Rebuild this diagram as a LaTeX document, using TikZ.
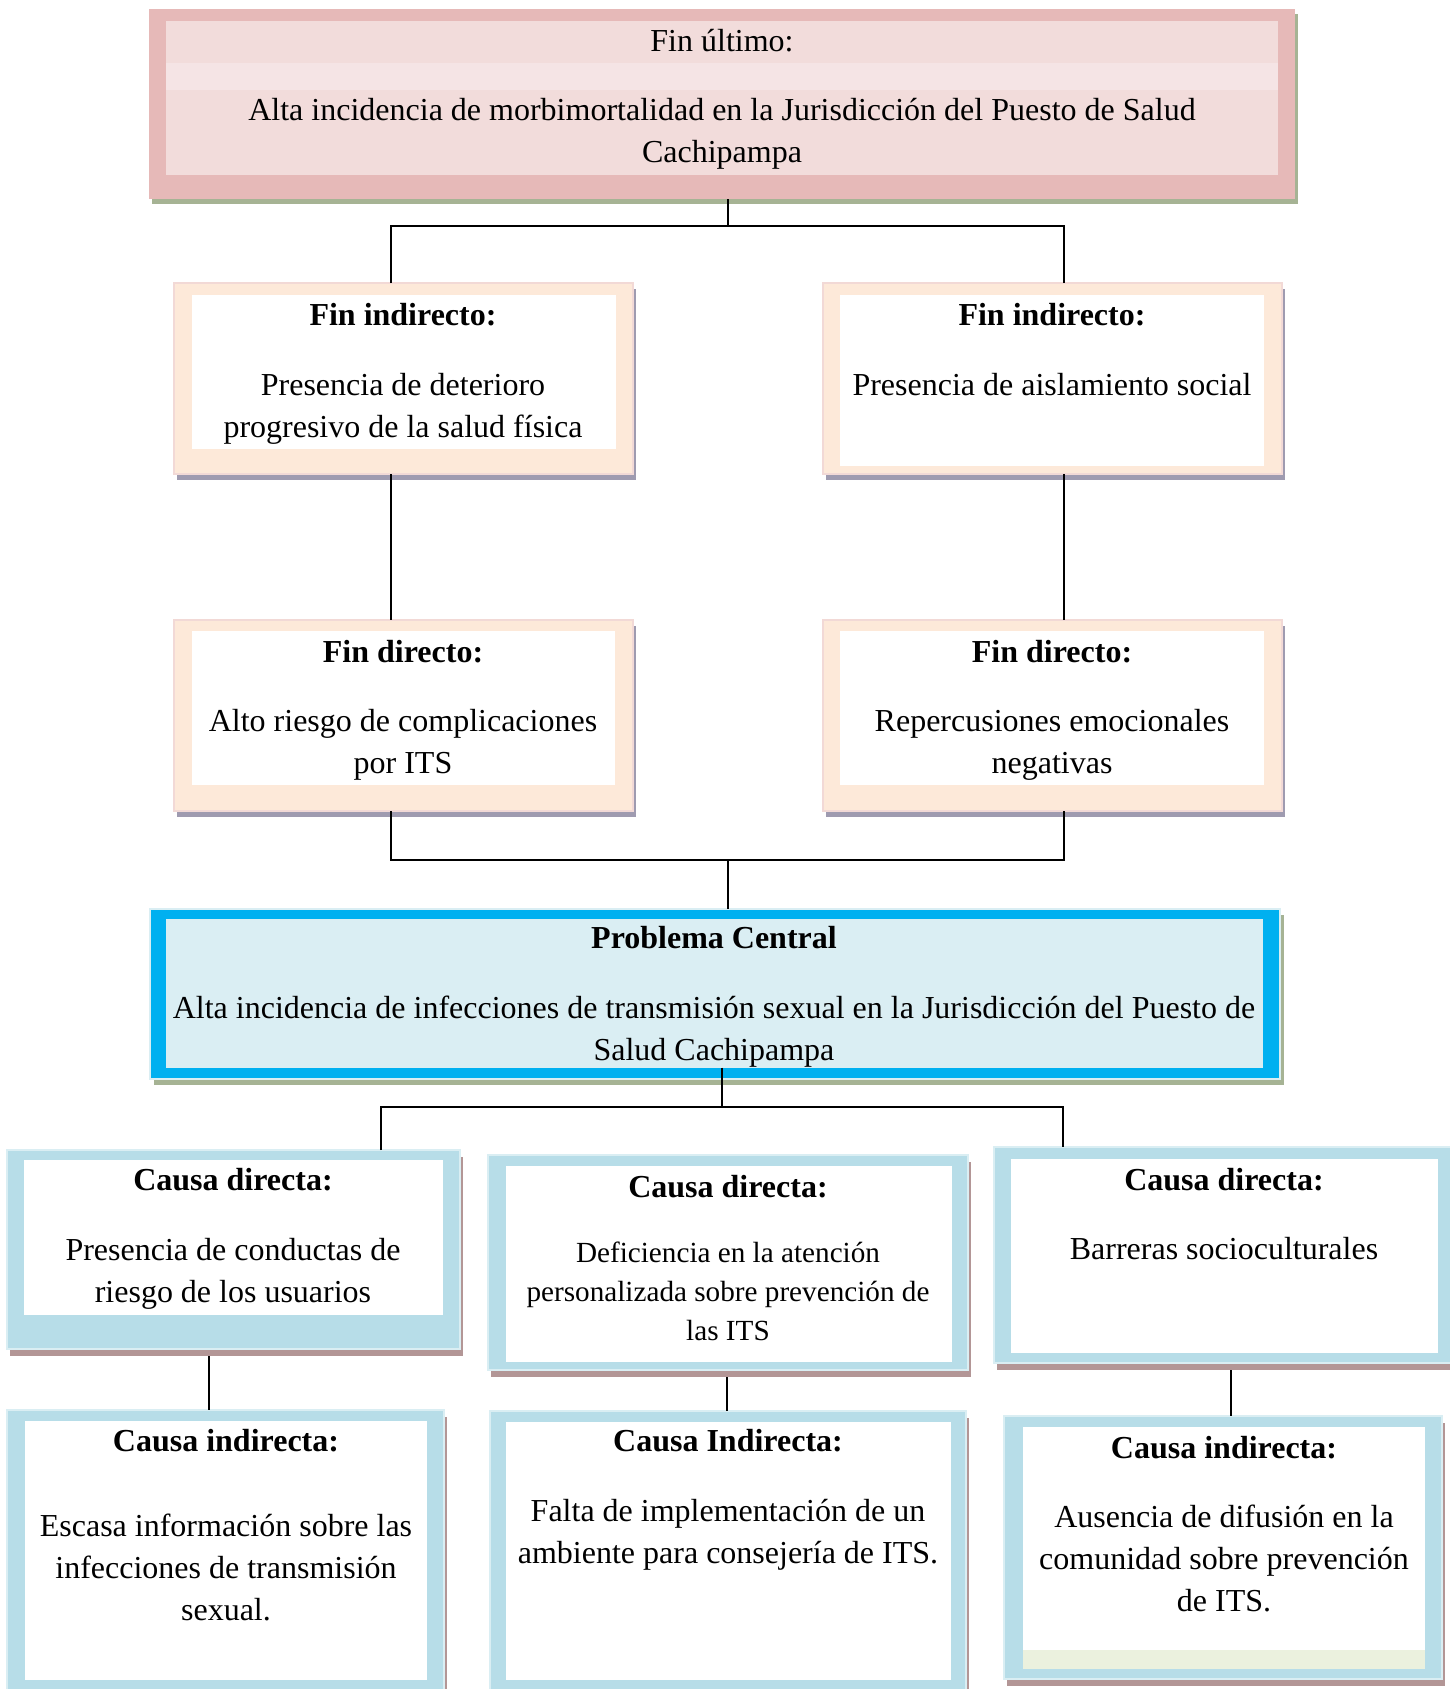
\documentclass[tikz,border=0pt]{standalone}
\usepackage{fontspec}
\setmainfont{Liberation Serif}
\usetikzlibrary{calc,shadows}
\definecolor{pinkBorder}{HTML}{E6B9B8}
\definecolor{pinkFill}{HTML}{F2DCDB}
\definecolor{pinkStripe}{HTML}{F5E4E5}
\definecolor{greenShadow}{HTML}{A6B394}
\definecolor{peach}{HTML}{FDE9D9}
\definecolor{peachLine}{HTML}{F2D9D6}
\definecolor{purpleShadow}{HTML}{9F9BB0}
\definecolor{strongBlue}{HTML}{00B0F0}
\definecolor{paleBlue}{HTML}{DAEEF3}
\definecolor{causaBorder}{HTML}{B7DDE8}
\definecolor{causaShadow}{HTML}{B39696}
\definecolor{paleGreen}{HTML}{EBF1DE}
\tikzset{
  boxbase/.style={rectangle, inner sep=0pt, outer sep=0pt, anchor=north west},
  topbox/.style={boxbase, fill=pinkBorder, general shadow={shadow xshift=3pt, shadow yshift=-5pt, fill=greenShadow}},
  finbox/.style={boxbase, fill=peach, draw=peachLine, line width=1.5pt, general shadow={shadow xshift=3pt, shadow yshift=-6pt, fill=purpleShadow}},
  pcbox/.style={boxbase, fill=strongBlue, draw=paleBlue, line width=2pt, general shadow={shadow xshift=4pt, shadow yshift=-6pt, fill=greenShadow}},
  causabox/.style={boxbase, fill=causaBorder, draw=paleBlue, line width=1.5pt, general shadow={shadow xshift=3pt, shadow yshift=-7pt, fill=causaShadow}},
  innerbox/.style={boxbase, fill=white},
  txt/.style={align=center, inner sep=0pt, font=\fontsize{32}{42}\selectfont},
  smalltxt/.style={align=center, inner sep=0pt, font=\fontsize{29.2}{38.8}\selectfont},
  head/.style={txt, font=\fontsize{32}{42}\selectfont\bfseries},
  conn/.style={draw=black, line width=1.8pt}
}
\begin{document}
\begin{tikzpicture}[x=1pt,y=-1pt]
\clip (0,0) rectangle (1450,1689);
\fill[white] (0,0) rectangle (1450,1689);

% ---- top box
\node[topbox, minimum width=1146pt, minimum height=190pt] (top) at (149,9) {};
\node[innerbox, fill=pinkFill, minimum width=1112pt, minimum height=154pt] (topin) at (166,21) {};
\fill[pinkStripe] (166,63) rectangle (1278,90);
\node[txt] (t1) at (722,41) {Fin último:};
\node[txt] (t2) at (722,133.5) {Alta incidencia de morbimortalidad en la Jurisdicción del Puesto de Salud\\Cachipampa};

% ---- fin indirecto
\node[finbox, minimum width=459pt, minimum height=191pt] (fil) at (174,283) {};
\node[innerbox, minimum width=424pt, minimum height=154pt] (filin) at (192,295) {};
\node[head] (filh) at (403,315) {Fin indirecto:};
\node[txt] (filt) at (403,408.5) {Presencia de deterioro\\progresivo de la salud física};

\node[finbox, minimum width=459pt, minimum height=191pt] (fir) at (823,283) {};
\node[innerbox, minimum width=424pt, minimum height=171pt] (firin) at (840,295) {};
\node[head] (firh) at (1052,315) {Fin indirecto:};
\node[txt] (firt) at (1052,385) {Presencia de aislamiento social};

% ---- fin directo
\node[finbox, minimum width=459pt, minimum height=191pt] (fdl) at (174,620) {};
\node[innerbox, minimum width=423pt, minimum height=154pt] (fdlin) at (192,631) {};
\node[head] (fdlh) at (403,652) {Fin directo:};
\node[txt] (fdlt) at (403,744.5) {Alto riesgo de complicaciones\\por ITS};

\node[finbox, minimum width=459pt, minimum height=191pt] (fdr) at (823,620) {};
\node[innerbox, minimum width=424pt, minimum height=154pt] (fdrin) at (840,631) {};
\node[head] (fdrh) at (1052,652) {Fin directo:};
\node[txt] (fdrt) at (1052,744.5) {Repercusiones emocionales\\negativas};

% ---- problema central
\node[pcbox, minimum width=1130pt, minimum height=170pt] (pc) at (150,908.5) {};
\node[innerbox, fill=paleBlue, minimum width=1097pt, minimum height=149pt] (pcin) at (166,919) {};
\node[head] (pch) at (714,938) {Problema Central};
\node[txt] (pct) at (714,1031.5) {Alta incidencia de infecciones de transmisión sexual en la Jurisdicción del Puesto de\\Salud Cachipampa};

% ---- causas directas
\node[causabox, minimum width=453pt, minimum height=199pt] (cd1) at (7,1150) {};
\node[innerbox, minimum width=419pt, minimum height=155pt] (cd1in) at (24,1160) {};
\node[head] (cd1h) at (233,1180) {Causa directa:};
\node[txt] (cd1t) at (233,1273.5) {Presencia de conductas de\\riesgo de los usuarios};

\node[causabox, minimum width=480pt, minimum height=215pt] (cd2) at (488,1155) {};
\node[innerbox, minimum width=446pt, minimum height=196pt] (cd2in) at (506,1166) {};
\node[head] (cd2h) at (728,1187) {Causa directa:};
\node[smalltxt] (cd2t) at (728,1291.5) {Deficiencia en la atención\\personalizada sobre prevención de\\las ITS};

\node[causabox, minimum width=458pt, minimum height=216pt] (cd3) at (994,1147) {};
\node[innerbox, minimum width=427pt, minimum height=194pt] (cd3in) at (1011,1159) {};
\node[head] (cd3h) at (1224,1180) {Causa directa:};
\node[txt] (cd3t) at (1224,1249) {Barreras socioculturales};

% ---- causas indirectas
\node[causabox, minimum width=437pt, minimum height=300pt] (ci1) at (7,1410) {};
\node[innerbox, minimum width=402pt, minimum height=259pt] (ci1in) at (25,1421) {};
\node[head] (ci1h) at (226,1441) {Causa indirecta:};
\node[txt] (ci1t) at (226,1567) {Escasa información sobre las\\infecciones de transmisión\\sexual.};

\node[causabox, minimum width=476pt, minimum height=300pt] (ci2) at (490,1411) {};
\node[innerbox, minimum width=445pt, minimum height=258pt] (ci2in) at (506,1422) {};
\node[head] (ci2h) at (728,1441) {Causa Indirecta:};
\node[txt] (ci2t) at (728,1534.5) {Falta de implementación de un\\ambiente para consejería de ITS.};

\node[causabox, minimum width=438pt, minimum height=263pt] (ci3) at (1004,1416) {};
\node[innerbox, minimum width=402pt, minimum height=242pt] (ci3in) at (1023,1427) {};
\fill[paleGreen] (1023,1650) rectangle (1425,1669);
\node[head] (ci3h) at (1224,1448) {Causa indirecta:};
\node[txt] (ci3t) at (1224,1558) {Ausencia de difusión en la\\comunidad sobre prevención\\de ITS.};

% ---- connectors
\coordinate (jt) at (728,226);
\coordinate (jtl) at (391,226);
\coordinate (jtr) at (1064,226);
\draw[conn] (top.south -| jt) -- (jt);
\draw[conn] (fil.north -| jtl) -- (jtl) -- (jtr) -- (fir.north -| jtr);
\draw[conn] (fil.south -| jtl) -- (fdl.north -| jtl);
\draw[conn] (fir.south -| jtr) -- (fdr.north -| jtr);

\coordinate (jm) at (728,860);
\coordinate (jml) at (391,860);
\coordinate (jmr) at (1064,860);
\draw[conn] (fdl.south -| jml) -- (jml) -- (jmr) -- (fdr.south -| jmr);
\draw[conn] (jm) -- (pc.north -| jm);

\coordinate (jb) at (722,1107);
\coordinate (jbl) at (381,1107);
\coordinate (jbr) at (1063,1107);
\draw[conn] ($(pc.south -| jb)+(0,-11)$) -- (jb);
\draw[conn] (cd1.north -| jbl) -- (jbl) -- (jbr) -- (cd3.north -| jbr);

\draw[conn] ($(cd1.south)+(-24.5,7)$) -- ($(ci1.north)+(-16.5,0)$);
\draw[conn] ($(cd2.south)+(-1,7)$) -- ($(ci2.north)+(-1,0)$);
\draw[conn] ($(cd3.south)+(8,7)$) -- ($(ci3.north)+(8,0)$);
\end{tikzpicture}
\end{document}
